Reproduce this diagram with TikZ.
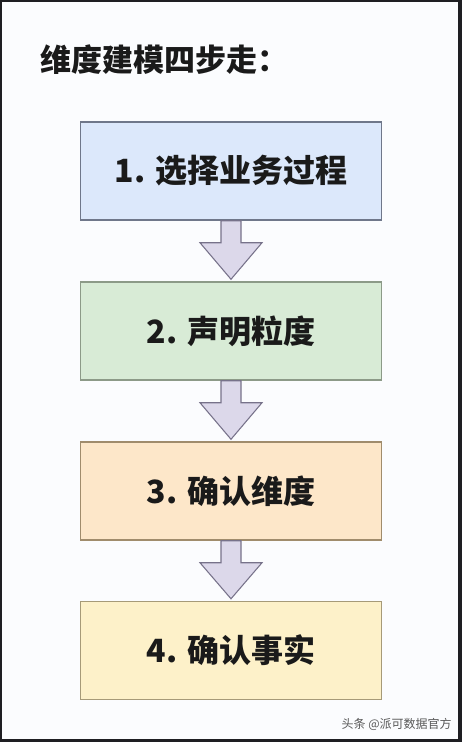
\documentclass[tikz,border=0pt]{standalone}
\usepackage{fontspec}
\setmainfont{Noto Sans CJK SC}
\usetikzlibrary{calc}
\definecolor{frameC}{HTML}{1E1E22}
\definecolor{bgC}{HTML}{FBFCFE}
\definecolor{f1}{HTML}{DCE8FB}\definecolor{d1}{HTML}{6F778A}
\definecolor{f2}{HTML}{D8EBD6}\definecolor{d2}{HTML}{8C9A88}
\definecolor{f3}{HTML}{FDE7C9}\definecolor{d3}{HTML}{A08C6C}
\definecolor{f4}{HTML}{FDF1C9}\definecolor{d4}{HTML}{A69A78}
\definecolor{arrowfill}{HTML}{DCD8EA}\definecolor{arrowline}{HTML}{77728A}
\definecolor{txt}{HTML}{1A1A1A}
\begin{document}
\begin{tikzpicture}[x=0.75pt,y=-0.75pt,
  stepbox/.style={draw, line width=1.1pt, minimum width=225.75pt, minimum height=73.5pt,
    inner sep=0pt, text=txt, font=\fontsize{24}{28}\selectfont\bfseries},
  blockarrow/.style={draw=arrowline, fill=arrowfill, line width=0.8pt, line join=miter}]
\fill[frameC] (0,0) rectangle (462,742);
\fill[bgC] (2,2) rectangle (458,739);
\node[anchor=west, inner sep=0pt, text=txt, font=\fontsize{23.25}{27}\selectfont\bfseries] (title) at (40,60) {维度建模四步走：};
\node[stepbox, fill=f1, draw=d1] (s1) at (231,171) {1. 选择业务过程};
\node[stepbox, fill=f2, draw=d2] (s2) at (231,331) {2. 声明粒度};
\node[stepbox, fill=f3, draw=d3] (s3) at (231,491) {3. 确认维度};
\node[stepbox, fill=f4, draw=d4] (s4) at (231,650.5) {4. 确认事实};
\foreach \a/\b in {s1/s2, s2/s3, s3/s4}{
  \draw[blockarrow] ($(\a.south)+(-10,0)$) -- ++(0,22) -- ++(-21,0)
    -- ($(\b.north)+(0,-2)$) -- ($(\a.south)+(31,22)$) -- ++(-21,0)
    -- ($(\a.south)+(10,0)$) -- cycle;
}
\node[anchor=east, inner sep=0pt, text=black!65, font=\fontsize{9}{11}\selectfont] (mark) at (452,724) {头条 @派可数据官方};
\end{tikzpicture}
\end{document}
